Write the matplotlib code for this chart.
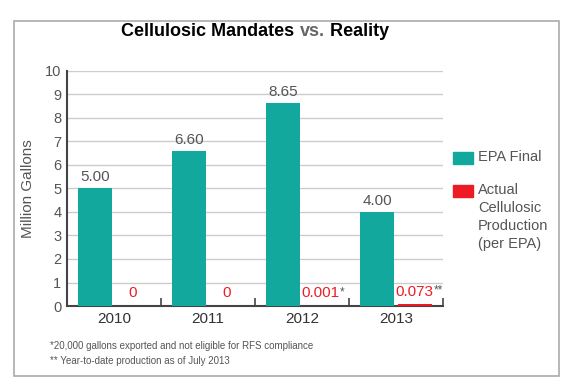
import numpy as np
import matplotlib.pyplot as plt
from matplotlib.patches import Rectangle

plt.rcParams['font.family'] = ['Liberation Sans', 'DejaVu Sans']

# data
years = ['2010', '2011', '2012', '2013']
epa_final = [5.00, 6.60, 8.65, 4.00]
actual = [0, 0, 0.001, 0.073]
epa_labels = ['5.00', '6.60', '8.65', '4.00']
actual_labels = ['0', '0', '0.001', '0.073']
actual_marks = ['', '', '*', '**']
legend_names = ['EPA Final', 'Actual\nCellulosic\nProduction\n(per EPA)']
footnotes = ['*20,000 gallons exported and not eligible for RFS compliance',
             '** Year-to-date production as of July 2013']

teal = '#13a89e'
red = '#ed1c24'
grey = '#555555'
W, H = 570, 387

fig = plt.figure(figsize=(5.7, 3.87), dpi=100)
fig.patch.set_facecolor('white')

# outer frame
fig.patches.append(Rectangle((14 / W, 1 - 376 / H), (559 - 14) / W, (376 - 21) / H,
                             transform=fig.transFigure, fill=False, edgecolor='#aaaaaa', lw=1.2))

ax = fig.add_axes([67 / W, 1 - 306 / H, (443 - 67) / W, (306 - 71) / H])
x = np.arange(len(years))
w = 0.36
b1 = ax.bar(x - 0.2, epa_final, w, color=teal, zorder=3)
b2 = ax.bar(x + 0.2, actual, w, color=red, zorder=3)

for rect, lab in zip(b1, epa_labels):
    ax.annotate(lab, (rect.get_x() + rect.get_width() / 2, rect.get_height()),
                xytext=(0, 3), textcoords='offset points', ha='center', va='bottom',
                fontsize=11, color=grey)
for rect, lab, mk in zip(b2, actual_labels, actual_marks):
    t = ax.annotate(lab, (rect.get_x() + rect.get_width() / 2, rect.get_height()),
                    xytext=(0, 4), textcoords='offset points', ha='center', va='bottom',
                    fontsize=11, color=red)
    if mk:
        ax.annotate(mk, xy=(1, 1), xycoords=t, ha='left', va='top', fontsize=8.5, color=grey)

ax.set_xlim(-0.5, 3.5)
ax.set_ylim(0, 10)
ax.set_yticks(range(11))
ax.set_xticks(x)
ax.set_xticklabels(years)
ax.set_xticks([0.5, 1.5, 2.5, 3.5], minor=True)
ax.tick_params(axis='y', length=0, labelsize=10.5, labelcolor=grey, pad=4)
ax.tick_params(axis='x', which='major', length=0, labelsize=11, labelcolor='#333333', pad=4)
ax.tick_params(axis='x', which='minor', direction='in', length=6, width=1.2, color='#444444')
ax.grid(axis='y', color='#cccccc', lw=1, zorder=0)
ax.spines['top'].set_visible(False)
ax.spines['right'].set_visible(False)
for s in ['left', 'bottom']:
    ax.spines[s].set_color('#444444')
    ax.spines[s].set_linewidth(1.5)
ax.set_ylabel('Million Gallons', fontsize=11, color=grey, labelpad=7)

# legend drawn by hand
for col, name, y_box in zip([teal, red], legend_names, [152, 185]):
    fig.patches.append(Rectangle((453 / W, 1 - (y_box + 12) / H), 20 / W, 12 / H,
                                 transform=fig.transFigure, color=col))
    fig.text(478 / W, 1 - (y_box - 2) / H, name, fontsize=10.5, color=grey,
             va='top', ha='left', linespacing=1.35)

# title in three parts
t1 = fig.text(0, 1 - 32 / H, 'Cellulosic Mandates ', fontsize=13, fontweight='bold', va='center', color='black')
t2 = fig.text(0, 1 - 32 / H, 'vs.', fontsize=13, fontweight='bold', va='center', color='#666666')
t3 = fig.text(0, 1 - 32 / H, ' Reality', fontsize=13, fontweight='bold', va='center', color='black')
fig.canvas.draw()
r = fig.canvas.get_renderer()
ws = [t.get_window_extent(r).width for t in (t1, t2, t3)]
xs = 255 - sum(ws) / 2
for t, wd in zip((t1, t2, t3), ws):
    t.set_x(xs / W)
    xs += wd

fig.text(50 / W, 1 - 346 / H, footnotes[0], fontsize=7, color=grey, va='center')
fig.text(50 / W, 1 - 361 / H, footnotes[1], fontsize=7, color=grey, va='center')

plt.savefig('out.png', dpi=100)
